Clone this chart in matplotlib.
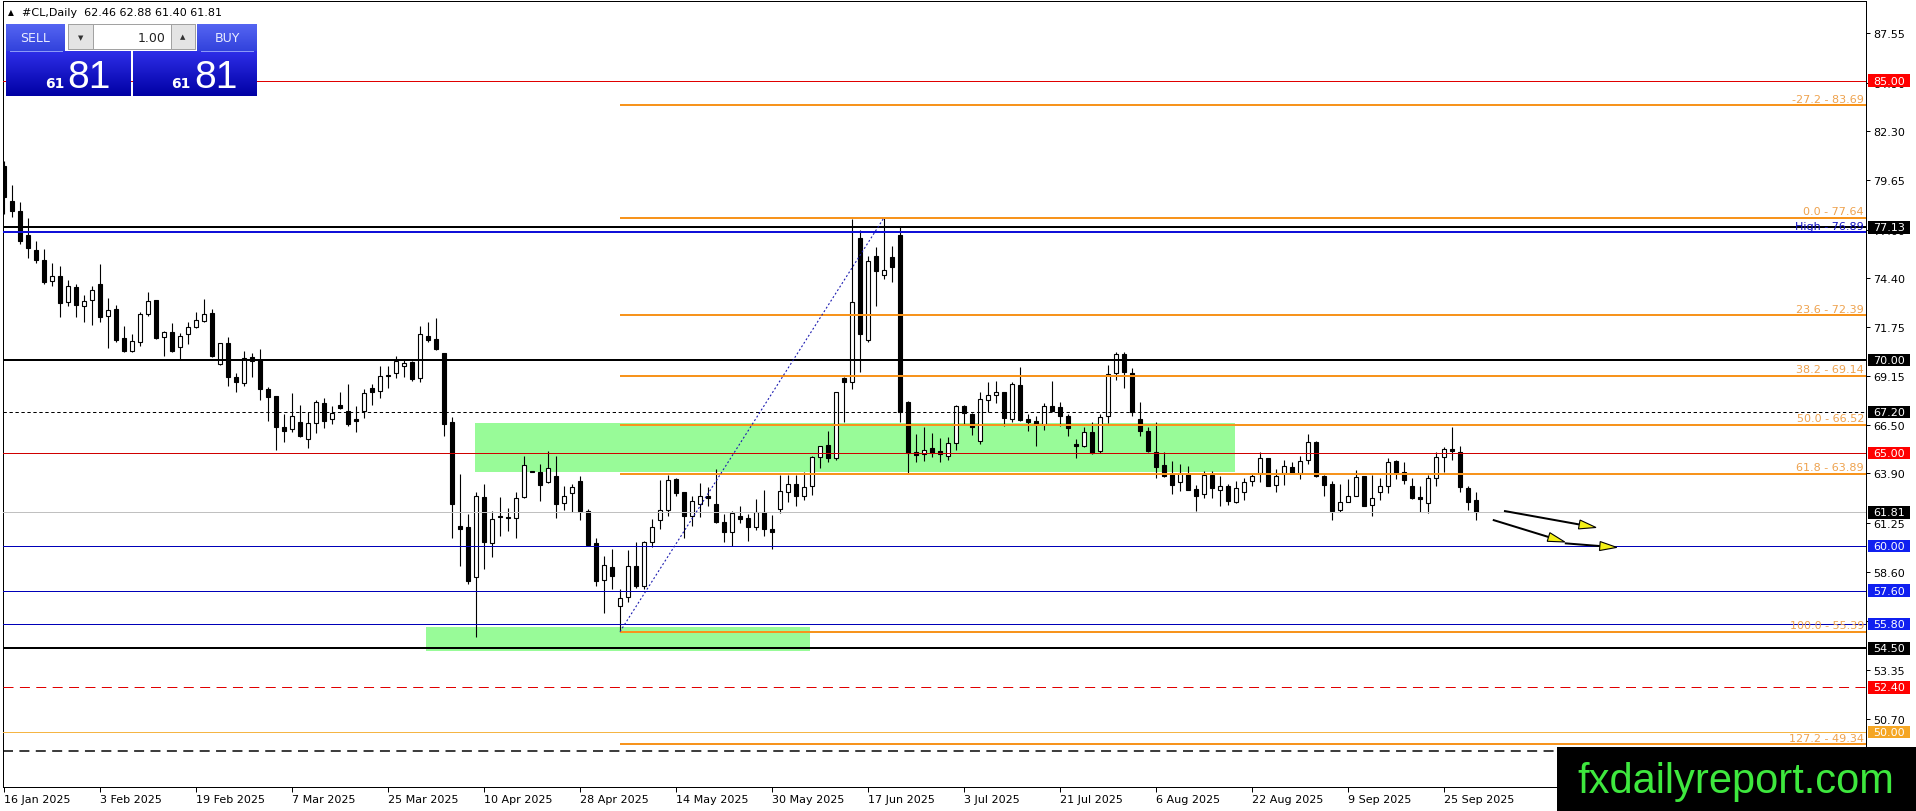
import numpy as np
import matplotlib
matplotlib.use('Agg')
import matplotlib.pyplot as plt
from matplotlib.patches import Rectangle, Polygon
from matplotlib.colors import to_rgb

plt.rcParams['font.family'] = ['DejaVu Sans']
plt.rcParams['lines.scale_dashes'] = False

# #CL daily candles, 16 Jan 2025 .. 1 Oct 2025 (one bar per trading day)
opens = [80.43, 78.52, 77.98, 76.71, 75.90, 75.37, 74.25, 74.49, 73.09, 73.89,
         72.91, 73.21, 74.07, 72.34, 72.73, 71.15, 70.49, 70.98, 72.46, 73.21,
         71.21, 71.48, 70.67, 71.39, 71.75, 72.07, 72.52, 69.77, 70.89, 69.06,
         68.74, 70.13, 70.01, 68.43, 68.04, 66.37, 66.28, 66.64, 65.74, 66.60,
         67.68, 66.82, 67.57, 67.27, 66.82, 67.27, 68.47, 68.31, 69.18, 69.29,
         69.69, 69.87, 69.02, 71.30, 71.12, 70.37, 66.64, 61.09, 61.00, 58.31,
         62.61, 60.14, 61.63, 61.54, 61.49, 62.61, 64.00, 63.96, 63.42, 63.74,
         62.31, 62.84, 63.51, 61.86, 60.14, 58.17, 58.85, 56.75, 57.23, 58.94,
         57.86, 60.19, 61.39, 61.95, 63.60, 62.88, 61.63, 62.25, 62.66, 62.25,
         61.27, 60.73, 61.63, 61.48, 61.00, 61.81, 60.91, 61.98, 62.92, 63.33,
         62.70, 63.20, 64.76, 65.42, 64.71, 69.01, 68.83, 76.53, 71.09, 75.56,
         74.56, 75.51, 76.71, 67.75, 65.07, 64.94, 65.25, 65.12, 64.85, 65.51,
         67.50, 67.09, 65.66, 67.86, 68.13, 68.25, 66.82, 68.65, 66.82, 66.73,
         66.55, 67.54, 67.45, 66.97, 65.48, 65.35, 66.10, 65.12, 67.00, 69.29,
         70.32, 69.29, 66.82, 66.16, 65.07, 64.35, 63.87, 63.42, 63.87, 63.06,
         62.79, 63.81, 63.02, 63.20, 62.38, 62.88, 63.47, 63.92, 64.71, 63.27,
         63.92, 64.22, 63.92, 64.63, 65.60, 63.78, 63.33, 61.95, 62.38, 62.70,
         63.74, 62.20, 62.92, 63.24, 64.58, 63.96, 63.20, 62.61, 62.31, 63.63,
         64.76, 65.21, 65.03, 63.09, 62.46]
highs = [80.70, 79.40, 78.46, 77.60, 76.40, 75.96, 75.20, 75.06, 74.29, 74.07,
         73.48, 73.98, 75.15, 73.30, 72.95, 71.84, 71.39, 72.55, 73.63, 73.21,
         71.57, 71.98, 71.42, 72.05, 72.55, 73.27, 72.73, 70.89, 71.21, 69.29,
         70.49, 70.37, 70.58, 68.52, 68.04, 67.09, 68.22, 67.57, 67.18, 67.86,
         67.93, 67.50, 68.29, 68.70, 67.54, 68.43, 68.70, 69.69, 69.65, 70.19,
         70.04, 69.96, 71.84, 72.05, 72.23, 70.37, 66.91, 63.86, 61.72, 62.92,
         63.33, 61.89, 62.61, 62.02, 62.92, 64.85, 64.02, 64.40, 65.12, 64.85,
         63.24, 63.33, 63.78, 61.98, 60.41, 59.48, 59.83, 57.68, 59.80, 60.23,
         60.28, 61.45, 63.54, 63.81, 63.63, 62.92, 62.70, 63.38, 63.15, 64.13,
         61.72, 61.89, 62.13, 61.72, 62.52, 63.02, 61.66, 63.81, 63.81, 63.81,
         63.96, 64.85, 65.39, 66.19, 68.29, 69.06, 77.58, 77.00, 75.56, 76.05,
         77.64, 76.14, 77.12, 67.81, 66.01, 66.37, 66.07, 65.78, 65.84, 67.57,
         67.57, 67.14, 68.29, 68.83, 68.88, 68.29, 68.79, 69.60, 67.09, 66.97,
         67.68, 68.88, 67.72, 67.09, 65.75, 66.37, 66.64, 67.09, 69.72, 70.44,
         70.40, 69.55, 67.75, 66.37, 66.64, 65.07, 64.58, 64.40, 64.31, 63.27,
         64.04, 64.04, 63.74, 63.33, 63.51, 63.63, 63.87, 65.06, 64.71, 64.13,
         64.63, 64.53, 64.81, 66.01, 65.66, 63.81, 63.51, 63.33, 63.60, 64.10,
         63.78, 63.81, 63.63, 64.71, 64.63, 64.53, 63.63, 63.20, 63.81, 65.03,
         65.30, 66.37, 65.35, 63.20, 62.88]
lows = [77.84, 77.69, 76.22, 75.45, 75.20, 74.07, 73.98, 72.32, 72.91, 72.28,
        72.01, 71.89, 72.01, 70.62, 70.94, 70.40, 70.44, 70.76, 72.37, 71.12,
        70.19, 70.44, 70.04, 70.85, 71.71, 72.01, 70.13, 69.74, 68.61, 68.29,
        68.57, 69.06, 67.86, 66.73, 65.17, 65.56, 66.10, 65.83, 65.24, 66.07,
        66.32, 66.55, 67.36, 66.46, 66.14, 66.85, 67.57, 67.93, 68.47, 69.00,
        69.09, 68.88, 68.79, 70.98, 70.55, 65.92, 60.41, 58.94, 57.95, 55.10,
        58.76, 59.39, 60.55, 60.82, 60.41, 62.56, 63.97, 62.43, 63.38, 61.48,
        61.95, 61.81, 61.41, 60.01, 57.86, 56.39, 57.68, 55.39, 56.97, 57.72,
        57.68, 59.92, 60.91, 61.59, 62.70, 60.41, 61.09, 61.54, 62.13, 61.23,
        60.19, 60.01, 61.23, 60.28, 60.87, 60.51, 59.83, 61.77, 62.34, 62.13,
        62.47, 62.74, 64.17, 64.53, 64.64, 66.68, 68.43, 69.37, 70.98, 72.91,
        74.35, 74.17, 66.64, 63.92, 64.49, 64.58, 64.76, 64.49, 64.64, 65.17,
        66.55, 65.96, 65.48, 67.22, 67.68, 66.43, 66.68, 66.73, 66.19, 65.39,
        66.25, 67.18, 66.43, 65.93, 64.71, 65.30, 64.94, 64.99, 66.61, 68.94,
        68.47, 67.00, 65.89, 65.03, 63.63, 63.69, 62.79, 62.97, 62.98, 61.89,
        62.56, 62.56, 62.13, 62.20, 62.31, 62.49, 63.20, 63.45, 63.20, 62.92,
        63.27, 63.87, 63.60, 64.40, 63.69, 62.70, 61.41, 61.81, 62.34, 62.66,
        62.13, 61.62, 62.49, 62.84, 63.60, 63.33, 62.52, 61.84, 61.77, 63.20,
        63.99, 64.63, 62.92, 61.95, 61.40]
closes = [78.73, 77.98, 76.40, 75.99, 75.38, 74.20, 74.52, 73.04, 73.95, 72.96,
          73.18, 73.77, 72.28, 72.70, 71.06, 70.49, 71.03, 72.46, 73.14, 71.15,
          71.48, 70.49, 71.30, 71.75, 72.16, 72.46, 70.19, 70.89, 69.06, 68.79,
          70.08, 69.92, 68.43, 67.98, 66.37, 66.19, 67.00, 65.92, 66.59, 67.71,
          66.73, 67.14, 67.39, 66.55, 66.73, 68.20, 68.25, 69.11, 69.11, 69.95,
          69.83, 68.97, 71.39, 71.08, 70.58, 66.55, 62.25, 60.91, 58.13, 62.66,
          60.19, 61.45, 61.54, 61.49, 62.56, 64.37, 63.99, 63.29, 64.17, 62.25,
          62.70, 63.15, 61.86, 60.07, 58.13, 58.97, 58.37, 57.18, 58.94, 57.83,
          60.23, 61.00, 61.93, 63.56, 62.83, 61.63, 62.43, 62.66, 62.59, 61.27,
          60.77, 61.75, 61.45, 61.00, 61.81, 60.91, 60.73, 62.97, 63.33, 62.70,
          63.18, 64.76, 65.35, 64.71, 68.25, 68.83, 73.13, 71.39, 75.33, 74.79,
          74.85, 74.97, 67.18, 64.99, 64.89, 65.17, 64.99, 64.94, 65.51, 67.50,
          67.13, 66.37, 67.90, 68.13, 68.25, 66.86, 68.70, 66.79, 66.68, 66.55,
          67.54, 67.27, 66.97, 66.32, 65.39, 66.10, 64.99, 66.91, 69.24, 70.32,
          69.33, 67.18, 66.19, 65.12, 64.22, 63.74, 63.27, 63.92, 63.02, 62.70,
          63.81, 63.09, 63.24, 62.43, 63.09, 63.45, 63.74, 64.71, 63.24, 63.78,
          64.28, 63.92, 64.58, 65.57, 63.74, 63.27, 61.89, 62.38, 62.70, 63.69,
          62.16, 62.56, 63.24, 64.49, 63.92, 63.56, 62.56, 62.52, 63.63, 64.76,
          65.21, 65.12, 63.15, 62.38, 61.81]

date_labels = ['16 Jan 2025', '3 Feb 2025', '19 Feb 2025', '7 Mar 2025', '25 Mar 2025',
               '10 Apr 2025', '28 Apr 2025', '14 May 2025', '30 May 2025', '17 Jun 2025',
               '3 Jul 2025', '21 Jul 2025', '6 Aug 2025', '22 Aug 2025', '9 Sep 2025',
               '25 Sep 2025']
bars_per_label = 12

# 48.05 sits under the watermark in the original, so it is left out
price_ticks = [87.55, 84.90, 82.30, 79.65, 77.00, 74.40, 71.75, 69.15, 66.50,
               63.90, 61.25, 58.60, 55.95, 53.35, 50.70]

# fibonacci retracement drawn from the April low (bar 77) to the June high (bar 110)
fib_from_bar, fib_to_bar = 77, 110
fib_pct = [-27.2, 0.0, 23.6, 38.2, 50.0, 61.8, 100.0, 127.2]
fib_price = [83.69, 77.64, 72.39, 69.14, 66.52, 63.89, 55.39, 49.34]

# manual horizontal levels
level_price = [85.00, 77.13, 76.89, 70.00, 67.20, 65.00, 61.81, 60.00,
               57.60, 55.80, 54.50, 52.40, 50.00, 49.00]
level_tag = ['85.00', '77.13', None, '70.00', '67.20', '65.00', '61.81', '60.00',
             '57.60', '55.80', '54.50', '52.40', '50.00', None]

# supply / demand zones: first bar, last bar, low, high
zone_bar0 = [58.9, 52.8]
zone_bar1 = [153.9, 100.8]
zone_low = [63.95, 54.37]
zone_high = [66.61, 55.62]

# projected path arrows: (bar, price) -> (bar, price)
arrows = [((187.5, 61.88), (199.0, 60.99)),
          ((186.1, 61.40), (195.1, 60.21)),
          ((195.1, 60.14), (201.6, 59.92))]

W, H = 1916, 812
PX = 0.72  # one pixel in points at dpi 100

# colour / width / dash per level, box colour for the price tag
short_dash = (0, (2.4, 1.9))
long_dash = (0, (7.2, 4.6))
level_style = [
    ('#e00000', 1, '-', '#ff0000'),
    ('black', 2, '-', 'black'),
    ('#1010d8', 2, '-', None),
    ('black', 2, '-', 'black'),
    ('black', 1, short_dash, 'black'),
    ('#d00000', 1, '-', '#ff0000'),
    ('#c0c0c0', 1, '-', 'black'),
    ('#0000b8', 1, '-', '#1020f0'),
    ('#0000b8', 1, '-', '#1020f0'),
    ('#0000b8', 1, '-', '#1020f0'),
    ('black', 2, '-', 'black'),
    ('#e00000', 1, long_dash, '#ff0000'),
    ('#f5b544', 1, '-', '#f5a623'),
    ('black', 1.5, long_dash, None),
]
fib_line = '#f7941d'
fib_text = '#eea24e'

fig = plt.figure(figsize=(W / 100, H / 100), dpi=100, facecolor='white')
left, right, top, bottom = 2.7, 1866, 2, 788
ax = fig.add_axes([left / W, (H - bottom) / H, (right - left) / W, (bottom - top) / H])
ax.set_xlim(-0.16, 232.75)
ax.set_ylim(47.04, 89.29)

x = np.arange(len(opens))
o, hi, lo, c = map(np.array, (opens, highs, lows, closes))
bull = c >= o

# zones in the background
for b0, b1, zl, zh in zip(zone_bar0, zone_bar1, zone_low, zone_high):
    ax.add_patch(Rectangle((b0, zl), b1 - b0, zh - zl, facecolor='#98fb98',
                           edgecolor='none', zorder=1))

# candles
ax.vlines(x, lo, hi, color='black', lw=0.8, zorder=3)
ax.bar(x, np.maximum(np.abs(c - o), 0.02), bottom=np.minimum(o, c), width=0.56,
       color=np.where(bull, 'white', 'black'), edgecolor='black', linewidth=0.8, zorder=4)

# horizontal levels
for p, (col, w, ls, _) in zip(level_price, level_style):
    ax.axhline(p, color=col, lw=w * PX, ls=ls, zorder=5)

# fibonacci
ax.hlines(fib_price, fib_from_bar, 232.75, color=fib_line, lw=2 * PX, zorder=5)
for pct, p in zip(fib_pct, fib_price):
    ax.text(0.9989, p + 0.08, f'{pct:.1f} - {p:.2f}', transform=ax.get_yaxis_transform(),
            ha='right', va='bottom', fontsize=8, color=fib_text, zorder=6)
ax.plot([fib_from_bar, fib_to_bar], [fib_price[-2], fib_price[1]], color='#1a1ab0',
        lw=0.8, ls=(0, (1.4, 1.6)), zorder=5)
ax.text(0.9989, level_price[2] + 0.02, 'High - 76.89', transform=ax.get_yaxis_transform(),
        ha='right', va='bottom', fontsize=8, color='#1010c0', zorder=6)

# price tags on the right scale
box_h = 12.7 / 18.607
for p, tag, (_, _, _, bc) in zip(level_price, level_tag, level_style):
    if tag is None:
        continue
    ax.add_patch(Rectangle((1.0011, p - box_h / 2), 0.0225, box_h,
                           transform=ax.get_yaxis_transform(), facecolor=bc,
                           edgecolor='none', clip_on=False, zorder=9))
    ax.text(1.0123, p, tag, transform=ax.get_yaxis_transform(), ha='center', va='center',
            fontsize=8, color='white', clip_on=False, zorder=10)

# arrows: black shaft, yellow head
to_px = ax.transData.transform
to_data = ax.transData.inverted().transform
for (x0, y0), (x1, y1) in arrows:
    p0, p1 = to_px((x0, y0)), to_px((x1, y1))
    d = p1 - p0
    u = d / np.hypot(*d)
    n = np.array([-u[1], u[0]])
    base = p1 - u * 17
    tri = to_data(np.array([p1, base + n * 4.5, base - n * 4.5]))
    b = to_data(base)
    ax.plot([x0, b[0]], [y0, b[1]], color='black', lw=2 * PX, zorder=7,
            solid_capstyle='butt')
    ax.add_patch(Polygon(tri, closed=True, facecolor='#f4f018', edgecolor='black',
                         lw=0.8, zorder=8))

# axes cosmetics
for s in ax.spines.values():
    s.set_color('black')
    s.set_linewidth(PX)
ax.yaxis.tick_right()
ax.set_yticks(price_ticks)
ax.set_yticklabels([f'{t:.2f}' for t in price_ticks])
ax.tick_params(axis='y', direction='out', length=3, width=PX, pad=2, labelsize=8)
ticks_x = np.arange(len(date_labels)) * bars_per_label
ax.set_xticks(ticks_x)
ax.set_xticklabels(date_labels)
for t in ax.get_xticklabels():
    t.set_ha('left')
ax.tick_params(axis='x', direction='out', length=3.5, width=PX, pad=1.5, labelsize=8)

# overlay in pixel coordinates: header, trade panel, watermark
ov = fig.add_axes([0, 0, 1, 1])
ov.set_axis_off()
ov.patch.set_alpha(0)


def grad_box(x0, y0, x1, y1, c_top, c_bot):
    t = np.linspace(0, 1, 64)[:, None, None]
    img = np.array(to_rgb(c_top)) * (1 - t) + np.array(to_rgb(c_bot)) * t
    ov.imshow(img, extent=(x0, x1, y1, y0), aspect='auto', interpolation='bilinear',
              zorder=2)


ov.text(10.5, 12.5, '▲', fontsize=5.5, ha='center', va='center', color='black')
ov.text(22, 13, '#CL,Daily  62.46 62.88 61.40 61.81', fontsize=8, ha='left',
        va='center', color='black')

grad_box(6, 25, 65, 52, '#5565f2', '#3242dc')
grad_box(197, 25, 257, 52, '#5565f2', '#3242dc')
grad_box(6, 52, 131, 97, '#2e2ee8', '#0000a4')
grad_box(133, 52, 257, 97, '#2e2ee8', '#0000a4')
ov.plot([10, 62], [51.5, 51.5], color='#8f9cf8', lw=0.7, zorder=3)
ov.plot([201, 253], [51.5, 51.5], color='#8f9cf8', lw=0.7, zorder=3)
ov.text(35.5, 38, 'SELL', fontsize=9, color='#e8ecff', ha='center', va='center', zorder=4)
ov.text(227, 38, 'BUY', fontsize=9, color='#e8ecff', ha='center', va='center', zorder=4)
ov.add_patch(Rectangle((68, 25), 127, 25, facecolor='white', edgecolor='#a0a0a0',
                       lw=0.7, zorder=3))
ov.add_patch(Rectangle((68, 25), 25, 25, facecolor='#e4e4e4', edgecolor='#a0a0a0',
                       lw=0.7, zorder=3))
ov.add_patch(Rectangle((171, 25), 24, 25, facecolor='#e4e4e4', edgecolor='#a0a0a0',
                       lw=0.7, zorder=3))
ov.text(80.5, 38, '▼', fontsize=5, ha='center', va='center', color='#333333', zorder=4)
ov.text(183, 37.5, '▲', fontsize=5, ha='center', va='center', color='#333333', zorder=4)
ov.text(166, 38, '1.00', fontsize=9, ha='right', va='center', color='#222222', zorder=4)
for cx, big_x in ((55, 67), (181, 194)):
    ov.text(cx, 88, '61', fontsize=10, fontweight='bold', color='white', ha='center',
            va='baseline', zorder=4)
    ov.text(big_x, 88, '81', fontsize=28, family='Liberation Sans', color='white',
            ha='left', va='baseline', zorder=4)

ov.add_patch(Rectangle((1557, 748), W - 1557, H - 748, facecolor='black',
                       edgecolor='none', zorder=5))
ov.text(1736, 782, 'fxdailyreport.com', fontsize=30, family='Liberation Sans',
        color='#3ee83e', ha='center', va='center', zorder=6)

ov.set_xlim(0, W)
ov.set_ylim(H, 0)

fig.savefig('out.png', dpi=100, facecolor='white')
